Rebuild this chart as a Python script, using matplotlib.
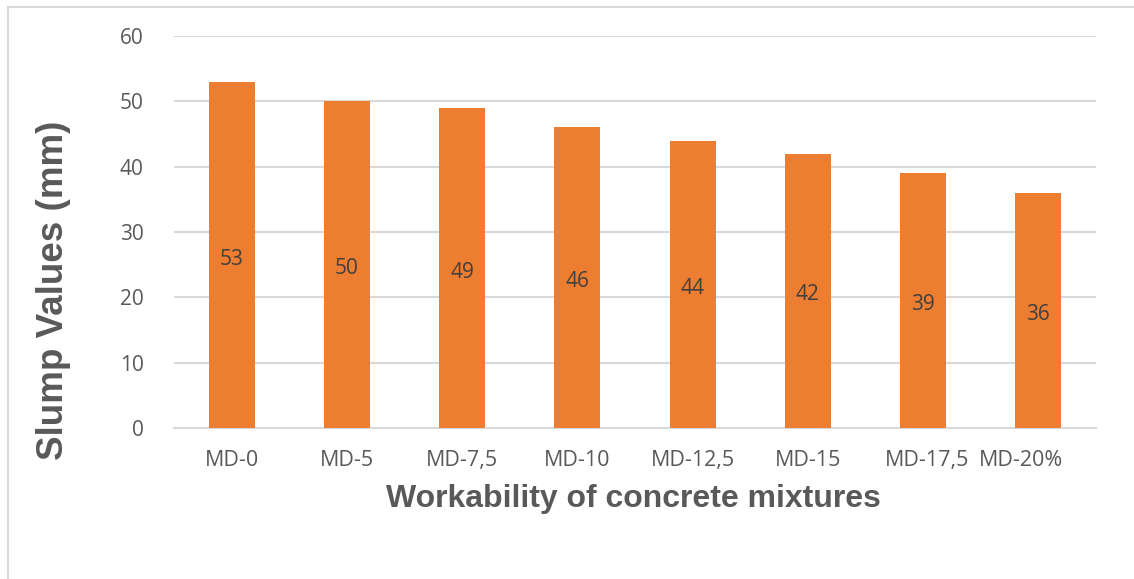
import matplotlib
matplotlib.use("Agg")
import matplotlib.pyplot as plt
import matplotlib.transforms as mtransforms
from matplotlib.lines import Line2D

categories = ["MD-0", "MD-5", "MD-7,5", "MD-10", "MD-12,5", "MD-15", "MD-17,5", "MD-20%"]
slump = [53, 50, 49, 46, 44, 42, 39, 36]
yticks = [0, 10, 20, 30, 40, 50, 60]

W, H = 1134, 579
fig = plt.figure(figsize=(W / 100, H / 100), dpi=100)
ax = fig.add_axes([174 / W, 1 - 428 / H, (1096 - 174) / W, (428 - 36) / H])

bar_color = "#ED7D31"
x = list(range(len(categories)))
ax.bar(x, slump, width=0.4, color=bar_color, zorder=3)
for xi, v in zip(x, slump):
    ax.annotate(str(v), (xi, v / 2), xytext=(0, -3), textcoords="offset points",
                ha="center", va="center", fontsize=15,
                family="Open Sans", color="#404040", zorder=4)

ax.set_xlim(-0.5, len(categories) - 0.5)
ax.set_ylim(0, 60)
ax.set_yticks(yticks)
ax.set_yticklabels([str(t) for t in yticks])
ax.set_xticks(x)
ax.set_xticklabels(categories)
ax.grid(axis="y", color="#D9D9D9", linewidth=1.5, zorder=0)
for s in ["top", "right", "left"]:
    ax.spines[s].set_visible(False)
ax.spines["bottom"].set_color("#D9D9D9")
ax.spines["bottom"].set_linewidth(1.5)
ax.tick_params(axis="both", length=0, labelcolor="#595959")
ax.tick_params(axis="y", labelsize=15, pad=22)
ax.tick_params(axis="x", labelsize=15.5, pad=16)
for lab in ax.get_xticklabels() + ax.get_yticklabels():
    lab.set_family("Open Sans")

# last category labels crowd together as in the original
xlabs = ax.get_xticklabels()
xlabs[-2].set_transform(xlabs[-2].get_transform() +
                        mtransforms.ScaledTranslation(4 / 100, 0, fig.dpi_scale_trans))
xlabs[-1].set_transform(xlabs[-1].get_transform() +
                        mtransforms.ScaledTranslation(-17 / 100, 0, fig.dpi_scale_trans))

fig.text(633 / W, 1 - 499 / H, "Workability of concrete mixtures", fontsize=23,
         fontweight="bold", family="Liberation Sans", color="#595959",
         ha="center", va="center")
fig.text(54 / W, 1 - 290 / H, "Slump Values (mm)", fontsize=26.5, rotation=90,
         fontweight="bold", family="Liberation Sans", color="#595959",
         ha="center", va="center")

# outer chart frame (partially visible)
fig.add_artist(Line2D([8 / W, 8 / W], [0, 1 - 7 / H], transform=fig.transFigure,
                      color="#D9D9D9", linewidth=1.5))
fig.add_artist(Line2D([8 / W, 1], [1 - 7 / H, 1 - 7 / H], transform=fig.transFigure,
                      color="#D9D9D9", linewidth=1.5))

fig.savefig("out.png", dpi=100)
